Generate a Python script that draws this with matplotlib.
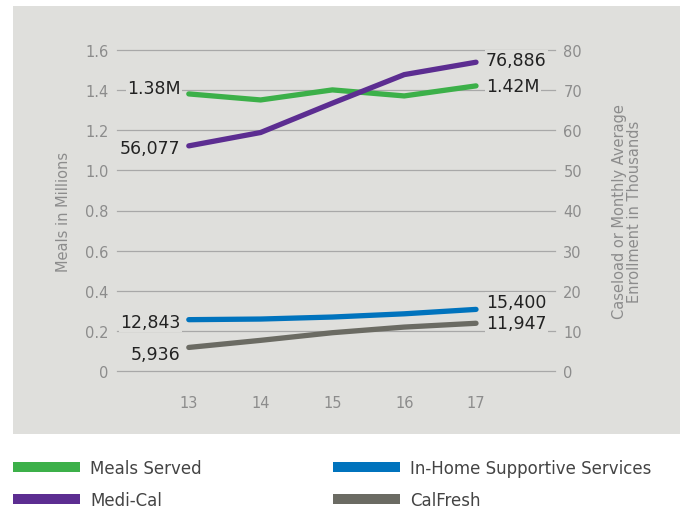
import matplotlib
matplotlib.use("Agg")
import matplotlib.pyplot as plt
from matplotlib.patches import Rectangle
from matplotlib.lines import Line2D

# Fiscal years (x axis) and series
years = [13, 14, 15, 16, 17]
meals_served = [1.38, 1.35, 1.40, 1.37, 1.42]          # millions, left axis
medi_cal = [56.077, 59.4, 66.7, 73.8, 76.886]           # thousands, right axis
ihss = [12.843, 13.0, 13.5, 14.3, 15.4]                 # thousands, right axis
calfresh = [5.936, 7.7, 9.6, 11.0, 11.947]              # thousands, right axis

left_ticks = [0, 0.2, 0.4, 0.6, 0.8, 1.0, 1.2, 1.4, 1.6]
left_ticklabels = ["0", "0.2", "0.4", "0.6", "0.8", "1.0", "1.2", "1.4", "1.6"]
right_ticks = [0, 10, 20, 30, 40, 50, 60, 70, 80]

labels_start = ["1.38M", "56,077", "12,843", "5,936"]
labels_end = ["1.42M", "76,886", "15,400", "11,947"]
series_names = ["Meals Served", "Medi-Cal", "In-Home Supportive Services", "CalFresh"]

bg = "#dfdfdc"
green = "#3cb049"
purple = "#5c2d91"
blue = "#0073bd"
grey = "#6b6b63"
tick_col = "#8c8c8c"

plt.rcParams["font.family"] = ["DejaVu Sans"]

W, H = 686, 510
fig = plt.figure(figsize=(W / 100, H / 100), dpi=100)

# grey panel behind the chart
fig.patches.append(Rectangle((13 / W, 1 - 435 / H), (680 - 13) / W, (435 - 7) / H,
                             transform=fig.transFigure, facecolor=bg, edgecolor="none", zorder=-5))

ax = fig.add_axes([117 / W, 1 - 372.3 / H, 438 / W, 321.6 / H])
ax.set_facecolor("none")
ax2 = ax.twinx()
ax2.set_facecolor("none")
ax.set_zorder(1)
ax2.set_zorder(2)

for a in (ax, ax2):
    for s in a.spines.values():
        s.set_visible(False)

ax.set_xlim(12.0, 18.1)
ax.set_ylim(0, 1.6)
ax2.set_ylim(0, 80)

ax.set_yticks(left_ticks)
ax.set_yticklabels(left_ticklabels)
ax2.set_yticks(right_ticks)
ax.set_xticks(years)

ax.tick_params(axis="y", length=0, pad=6, labelsize=10.5, labelcolor=tick_col)
ax2.tick_params(axis="y", length=0, pad=6, labelsize=10.5, labelcolor=tick_col)
ax.tick_params(axis="x", length=0, pad=17, labelsize=10.5, labelcolor=tick_col)

ax.grid(axis="y", color="#a8a8a8", linewidth=0.9)
ax.set_axisbelow(True)
for gl in ax.get_ygridlines():
    gl.set_clip_on(False)

lw = 3.8
ax2.plot(years, meals_served, color=green, lw=lw, solid_capstyle="round", zorder=3,
         clip_on=False, transform=ax.transData)
ax2.plot(years, medi_cal, color=purple, lw=lw, solid_capstyle="round", zorder=3, clip_on=False)
ax2.plot(years, ihss, color=blue, lw=lw, solid_capstyle="round", zorder=3, clip_on=False)
ax2.plot(years, calfresh, color=grey, lw=lw, solid_capstyle="round", zorder=3, clip_on=False)

# end labels (axis, series, start dy, end dy in pixels)
label_specs = [
    (ax, meals_served, 5.5, 0),
    (ax2, medi_cal, -2, 2),
    (ax2, ihss, -2, 7),
    (ax2, calfresh, -7, 0),
]
box = dict(facecolor=bg, edgecolor="none", pad=1)
for (a, vals, dy0, dy1), l0, l1 in zip(label_specs, labels_start, labels_end):
    ax2.annotate(l0, (years[0], vals[0]), xycoords=a.transData, xytext=(-8, dy0),
                 textcoords="offset pixels", ha="right", va="center", fontsize=12.5,
                 color="#222222", bbox=box, zorder=4)
    ax2.annotate(l1, (years[-1], vals[-1]), xycoords=a.transData, xytext=(10, dy1),
                 textcoords="offset pixels", ha="left", va="center", fontsize=12.5,
                 color="#222222", bbox=box, zorder=4)

fig.text(63 / W, 1 - 211.5 / H, "Meals in Millions", rotation=90, ha="center", va="center",
         fontsize=10.5, color=tick_col)
fig.text(627 / W, 1 - 211.5 / H, "Caseload or Monthly Average\nEnrollment in Thousands",
         rotation=90, ha="center", va="center", fontsize=10.5, color=tick_col, linespacing=1.0)

handles = [Line2D([], [], color=c, lw=7.2, solid_capstyle="butt")
           for c in (green, purple, blue, grey)]
fig.legend(handles, series_names, loc="upper left", bbox_to_anchor=(13 / W, 1 - 460 / H),
           ncol=2, frameon=False, fontsize=12, handlelength=4.0, handletextpad=0.65,
           columnspacing=7.85, labelspacing=0.85, borderpad=0, borderaxespad=0,
           labelcolor="#444444")

fig.savefig("out.png", dpi=100)
